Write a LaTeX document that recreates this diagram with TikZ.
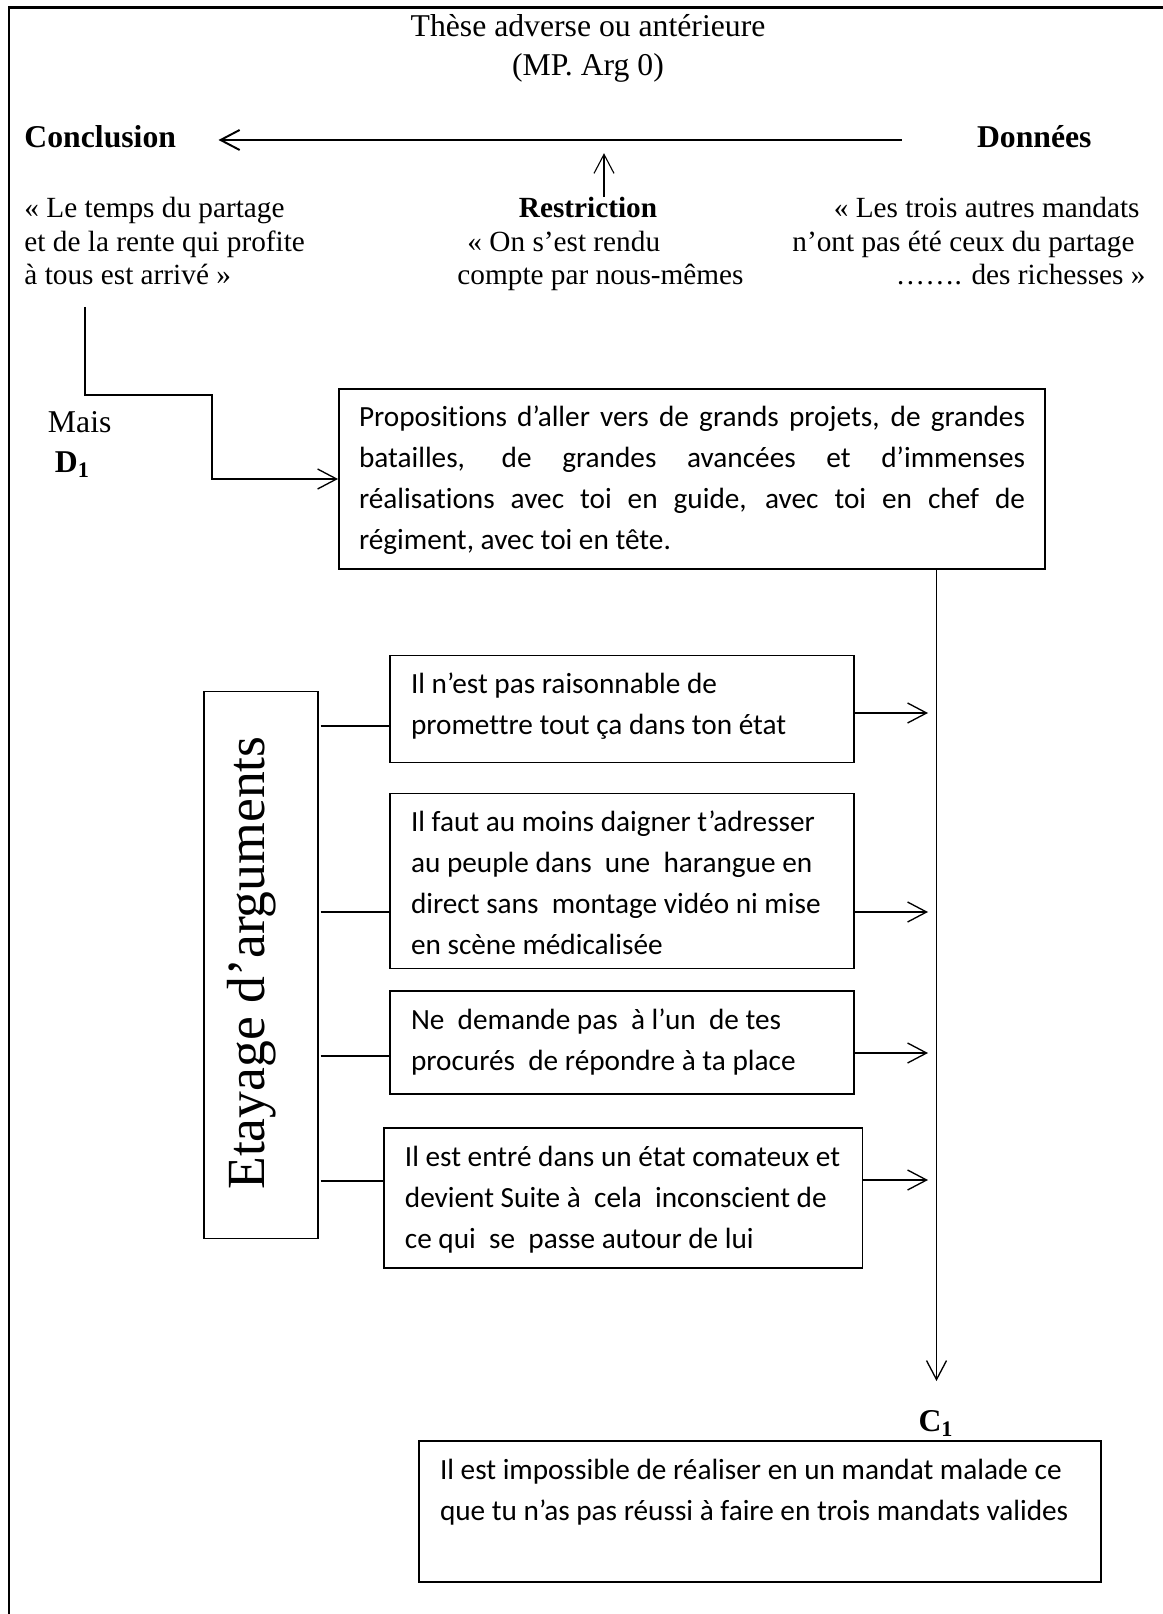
\documentclass[tikz,border=0pt]{standalone}
\usepackage{fontspec}
\setmainfont{Liberation Serif}[Ligatures=NoCommon]
\newfontfamily\calibri{Carlito}[Ligatures=NoCommon]
\usetikzlibrary{arrows.meta}

% one drawing unit = 0.41pt, y grows downwards
\newlength\PX
\setlength\PX{0.41pt}

% text of a framed box: width, height, left pad, alignment, text
\newcommand\boxpar[5]{\parbox[c][#2\PX][t]{#1\PX}{#4\leftskip=#3\PX\relax
  \baselineskip=41\PX\relax\rule{0pt}{38\PX}#5\par}}

\tikzset{
  x=0.41pt, y=-0.41pt,
  serif/.style={font=\fontsize{12}{13.8}\selectfont, inner sep=0pt},
  serifbig/.style={font=\fontsize{13}{15}\selectfont, inner sep=0pt},
  serifbold/.style={font=\fontsize{13}{15}\selectfont\bfseries, inner sep=0pt},
  tbox/.style={draw, line width=0.75pt, inner sep=0pt,
    font=\calibri\fontsize{12}{16.8}\selectfont},
  arr/.style={-{Straight Barb[length=7.8pt,width=8.2pt]}, line width=0.55pt},
  link/.style={line width=0.55pt},
}

\begin{document}
\begin{tikzpicture}
\fill[white] (0,0) rectangle (1163,1614);
\useasboundingbox (0,0) rectangle (1163,1614);

% page frame
\draw[line width=0.85pt] (9,1614) -- (9,7.5) -- (1163,7.5);

% heading
\node[serifbig, anchor=base] (these) at (588,37) {Thèse adverse ou antérieure};
\node[serifbig, anchor=base] (mparg) at (588,76) {(MP. Arg 0)};

% Toulmin line
\node[serifbold, anchor=base west] (concl) at (24,148) {Conclusion};
\node[serifbold, anchor=base east] (donnees) at (1092,148) {Données};
\draw[arr, line width=0.8pt] ([shift={(-75,-8)}]donnees.base west) -- ([shift={(42,-8)}]concl.base east);

\node[serif, anchor=base west] (lt1) at (24,218) {« Le temps du partage};
\node[serif, anchor=base west] (lt2) at (24,252) {et de la rente qui profite};
\node[serif, anchor=base west] (lt3) at (24,285) {à tous est arrivé »};

\node[serif, anchor=base, font=\fontsize{12}{13.8}\selectfont\bfseries] (restr) at (588,218) {Restriction};
\node[serif, anchor=base west] (mq1) at (467,252) {« On s’est rendu};
\node[serif, anchor=base west] (mq2) at (457,285) {compte par nous-mêmes};
\draw[arr, line width=0.45pt] ([xshift=16*0.41pt]restr.north) -- ++(0,-44);

\node[serif, anchor=base east] (rq1) at (1140,218) {« Les trois autres mandats};
\node[serif, anchor=base east] (rq2) at (1135,252) {n’ont pas été ceux du partage};
\node[serif, anchor=base east] (rq3) at (1146,285) {……. des richesses »};

% first step
\node[serifbig, anchor=base west] (mais) at (47.5,433) {Mais};
\node[serifbold, anchor=base west] (d1) at (54.5,473) {D\textsubscript{1}};

\node[tbox, line width=0.8pt] (prop) at (692,479) {\boxpar{706}{180}{20}{\rightskip=20\PX\relax}{Propositions d’aller vers de grands projets, de grandes\linebreak
  batailles, de grandes avancées et d’immenses\linebreak
  réalisations avec toi en guide, avec toi en chef de\linebreak
  régiment, avec toi en tête.}};

\coordinate (k1) at (212,395);
\draw[arr] ([shift={(61,21)}]lt3.south west) |- (k1) |- (prop.west);

% supporting arguments
\node[draw, line width=0.45pt, inner sep=0pt, minimum width=114*0.41pt,
  minimum height=546.5*0.41pt] (etay) at (261,965) {};
\node[rotate=90, anchor=base, inner sep=0pt, font=\fontsize{22}{26}\selectfont]
  (etaytxt) at (264,963) {Etayage d’arguments};

\node[tbox] (b1) at (622,709) {\boxpar{464}{107}{21}{\raggedright}{Il n’est pas raisonnable de\\
  promettre tout ça dans ton état}};
\node[tbox] (b2) at (622,881) {\boxpar{464}{175}{21}{\raggedright}{Il faut au moins daigner t’adresser\\
  au peuple dans\ \ une\ \ harangue en\\
  direct sans\ \ montage vidéo ni mise\\
  en scène médicalisée}};
\node[tbox] (b3) at (622,1042.5) {\boxpar{464}{103}{21}{\raggedright}{Ne\ \ demande pas\ \ à l’un\ \ de tes\\
  procurés\ \ de répondre à ta place}};
\node[tbox] (b4) at (623.2,1198) {\boxpar{478.6}{140}{21}{\raggedright}{Il est entré dans un état comateux et\\
  devient Suite à\ \ cela\ \ inconscient de\\
  ce qui\ \ se\ \ passe autour de lui}};

\coordinate (y1) at (0,726);
\coordinate (y2) at (0,912);
\coordinate (y3) at (0,1056);
\coordinate (y4) at (0,1181);
\draw[link] ([xshift=2*0.41pt]etay.east |- y1) -- (b1.west |- y1);
\draw[link] ([xshift=2*0.41pt]etay.east |- y2) -- (b2.west |- y2);
\draw[link] ([xshift=2*0.41pt]etay.east |- y3) -- (b3.west |- y3);
\draw[link] ([xshift=2*0.41pt]etay.east |- y4) -- (b4.west |- y4);

\coordinate (a1) at (928,713);
\coordinate (a2) at (928,912);
\coordinate (a3) at (928,1053);
\coordinate (a4) at (928,1180);
\draw[arr] (b1.east |- a1) -- (a1);
\draw[arr] (b2.east |- a2) -- (a2);
\draw[arr] (b3.east |- a3) -- (a3);
\draw[arr] (b4.east |- a4) -- (a4);

% conclusion
\coordinate (vend) at (936.5,1381);
\draw[arr] (prop.south -| vend) -- (vend);

\node[serifbold, anchor=base west] (c1) at (918,1431.7) {C\textsubscript{1}};

\node[tbox, line width=0.8pt] (concbox) at (760,1511.5) {\boxpar{682}{141}{21}{\raggedright}{Il est impossible de réaliser en un mandat malade ce\\
  que tu n’as pas réussi à faire en trois mandats valides}};
\end{tikzpicture}
\end{document}
